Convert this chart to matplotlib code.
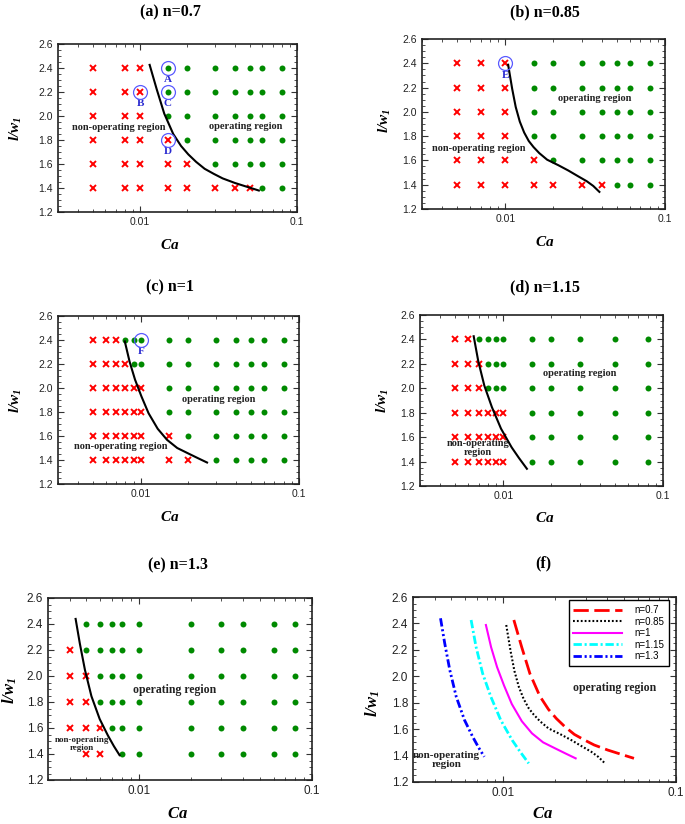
import numpy as np
import matplotlib
matplotlib.use("Agg")
import matplotlib.pyplot as plt
from matplotlib.ticker import FixedLocator, FuncFormatter, MultipleLocator, LogLocator, NullFormatter

plt.rcParams["font.family"] = "Liberation Sans"
plt.rcParams["mathtext.fontset"] = "custom"
plt.rcParams["mathtext.rm"] = "Liberation Serif"
plt.rcParams["mathtext.it"] = "Liberation Serif:italic"
plt.rcParams["mathtext.bf"] = "Liberation Serif:bold"
plt.rcParams["mathtext.bfit"] = "Liberation Serif:bold:italic"
plt.rcParams["lines.scale_dashes"] = False

SERIF = "Liberation Serif"

# rows of l/w1 tested in every panel
lw_rows = [2.4, 2.2, 2.0, 1.8, 1.6, 1.4]

# Ca columns per panel and how many (from the left) fail in each row
ca_a = [0.005, 0.008, 0.01, 0.015, 0.02, 0.03, 0.04, 0.05, 0.06, 0.08]
fail_a = [3, 3, 3, 4, 5, 8]
ca_b = [0.005, 0.007, 0.01, 0.015, 0.02, 0.03, 0.04, 0.05, 0.06, 0.08]
fail_b = [3, 3, 3, 3, 4, 7]
ca_c = [0.005, 0.006, 0.007, 0.008, 0.009, 0.01, 0.015, 0.02, 0.03, 0.04, 0.05, 0.06, 0.08]
fail_c = [3, 4, 6, 6, 7, 8]
ca_d = [0.005, 0.006, 0.007, 0.008, 0.009, 0.01, 0.015, 0.02, 0.03, 0.05, 0.08]
fail_d = [2, 3, 3, 6, 6, 6]
ca_e = [0.004, 0.005, 0.006, 0.007, 0.008, 0.01, 0.02, 0.03, 0.04, 0.06, 0.08]
fail_e = [1, 1, 2, 2, 3, 3]
skip_e = [(2.4, 0.004), (1.4, 0.004), (1.4, 0.007)]

# critical curves
ca_n07 = [0.01151, 0.01278, 0.01426, 0.01627, 0.01825, 0.0203, 0.02275, 0.0258, 0.02958, 0.0336, 0.0402, 0.048, 0.0571]
lw_n07 = [2.426, 2.221, 2.02, 1.85, 1.75, 1.68, 1.618, 1.56, 1.517, 1.48, 1.442, 1.41, 1.379]
ca_n085 = [0.0104, 0.01102, 0.0116, 0.0123, 0.0131, 0.0140, 0.0150, 0.0163, 0.01825, 0.0215,
           0.02477, 0.0285, 0.0323, 0.0355, 0.0388]
lw_n085 = [2.388, 2.19, 2.04, 1.92, 1.83, 1.76, 1.71, 1.66, 1.606, 1.56,
           1.517, 1.47, 1.429, 1.39, 1.341]
ca_n1 = [0.00793, 0.0085, 0.0092, 0.0101, 0.0112, 0.0128, 0.01466, 0.0170, 0.01993, 0.0230, 0.02624]
lw_n1 = [2.388, 2.22, 2.07, 1.93, 1.79, 1.66, 1.568, 1.50, 1.455, 1.415, 1.379]
ca_n115 = [0.00651, 0.00695, 0.00759, 0.00847, 0.00966, 0.01125, 0.0125, 0.01403]
lw_n115 = [2.426, 2.224, 2.022, 1.845, 1.669, 1.517, 1.43, 1.341]
ca_n13 = [0.00433, 0.00458, 0.0049, 0.00534, 0.00596, 0.00665, 0.0072, 0.00776]
lw_n13 = [2.439, 2.249, 2.047, 1.845, 1.669, 1.542, 1.46, 1.391]

# circled cases
circ_a = [(0.015, 2.4, "A"), (0.01, 2.2, "B"), (0.015, 2.2, "C"), (0.015, 1.8, "D")]
circ_b = [(0.01, 2.4, "E")]
circ_c = [(0.01, 2.4, "F")]

fig = plt.figure(figsize=(6.85, 8.24), dpi=100)
W, H = 685.0, 824.0


def setup(ax, fs):
    ax.set_xscale("log")
    ax.set_xlim(0.003, 0.1)
    ax.set_ylim(1.2, 2.6)
    ax.yaxis.set_major_locator(FixedLocator([1.2, 1.4, 1.6, 1.8, 2.0, 2.2, 2.4, 2.6]))
    ax.yaxis.set_minor_locator(MultipleLocator(0.05))
    ax.xaxis.set_major_locator(FixedLocator([0.01, 0.1]))
    ax.xaxis.set_minor_locator(LogLocator(subs=range(2, 10)))
    ax.xaxis.set_minor_formatter(NullFormatter())
    ax.xaxis.set_major_formatter(FuncFormatter(lambda v, p: f"{v:g}"))
    ax.yaxis.set_major_formatter(FuncFormatter(lambda v, p: f"{v:.1f}"))
    ax.tick_params(which="both", direction="in", top=True, right=True, labelsize=fs,
                   colors="#333333", labelcolor="#222222")
    ax.tick_params(which="major", length=4, width=0.8)
    ax.tick_params(which="minor", length=2, width=0.6)
    for s in ax.spines.values():
        s.set_linewidth(1.2)
        s.set_color("#222222")


def grid_points(ax, ca, fail, skip=()):
    for row, k in zip(lw_rows, fail):
        for j, c in enumerate(ca):
            if (row, c) in skip:
                continue
            if j < k:
                ax.plot(c, row, "x", color="red", ms=4.5, mew=1.4, zorder=3)
            else:
                ax.plot(c, row, "o", color="#008a00", ms=4.3, mec="none", zorder=3)


def circles(ax, items):
    for c, row, lab in items:
        ax.plot(c, row, "o", mfc="none", mec="#5a5aff", ms=10, mew=0.9, zorder=4)
        ax.text(c, row - 0.1, lab, color="#2a2ad0", family=SERIF, weight="bold",
                fontsize=8, ha="center", va="center")


def region(ax, x, y, s, fs=7.5):
    ax.text(x, y, s, family=SERIF, weight="bold", fontsize=fs, color="#222222",
            ha="center", va="center", linespacing=1.0, zorder=5)


def labels(title, tx, ty, xl_y, yl_x, yl_y, fs=11):
    fig.text(tx / W, 1 - ty / H, title, family=SERIF, weight="bold", fontsize=11.5,
             ha="center", va="center")
    fig.text(tx / W, 1 - xl_y / H, r"$\mathbfit{Ca}$", fontsize=fs, ha="center", va="center")
    fig.text(yl_x / W, 1 - yl_y / H, r"$\mathbfit{l/w}_\mathbfit{1}$", fontsize=fs,
             ha="center", va="center", rotation=90)


def add_axes(l, r, t, b):
    return fig.add_axes([l / W, 1 - b / H, (r - l) / W, (b - t) / H])


# (a)
ax = add_axes(58, 297, 44, 212)
setup(ax, 7.5)
grid_points(ax, ca_a, fail_a)
ax.plot(ca_n07, lw_n07, color="black", lw=1.5, zorder=4)
circles(ax, circ_a)
region(ax, 0.0073, 1.90, "non-operating region")
region(ax, 0.047, 1.91, "operating region")
labels("(a) n=0.7", 170, 12, 245, 16, 128)

# (b)
ax = add_axes(422, 665, 39, 209)
setup(ax, 7.5)
grid_points(ax, ca_b, fail_b)
ax.plot(ca_n085, lw_n085, color="black", lw=1.5, zorder=4)
circles(ax, circ_b)
region(ax, 0.0068, 1.70, "non-operating region")
region(ax, 0.036, 2.11, "operating region")
labels("(b) n=0.85", 545, 12, 242, 385, 120)

# (c)
ax = add_axes(58, 299, 316, 484)
setup(ax, 7.5)
grid_points(ax, ca_c, fail_c)
ax.plot(ca_n1, lw_n1, color="black", lw=1.5, zorder=4)
circles(ax, circ_c)
region(ax, 0.0075, 1.51, "non-operating region")
region(ax, 0.031, 1.90, "operating region")
labels("(c) n=1", 170, 287, 517, 16, 400)

# (d)
ax = add_axes(420, 663, 315, 486)
setup(ax, 7.5)
grid_points(ax, ca_d, fail_d)
ax.plot(ca_n115, lw_n115, color="black", lw=1.5, zorder=4)
region(ax, 0.0069, 1.51, "non-operating\nregion")
region(ax, 0.030, 2.12, "operating region")
labels("(d) n=1.15", 545, 287, 518, 383, 400)

# (e)
ax = add_axes(48, 312, 598, 780)
setup(ax, 8.5)
grid_points(ax, ca_e, fail_e, skip_e)
ax.plot(ca_n13, lw_n13, color="black", lw=1.5, zorder=4)
region(ax, 0.0047, 1.48, "non-operating\nregion", fs=6.5)
region(ax, 0.0161, 1.89, "operating region", fs=8.5)
labels("(e) n=1.3", 178, 565, 813, 10, 690, fs=12)

# (f)
ax = add_axes(413, 676, 597, 782)
setup(ax, 8.5)
ax.plot(ca_n07, lw_n07, color="red", lw=2.0, dashes=[11, 4], label="n=0.7")
ax.plot(ca_n085, lw_n085, color="black", lw=1.5, dashes=[1.3, 1.5], label="n=0.85")
ax.plot(ca_n1, lw_n1, color="magenta", lw=1.5, label="n=1")
ax.plot(ca_n115, lw_n115, color="cyan", lw=2.0, dashes=[6, 2, 1.5, 2], label="n=1.15")
ax.plot(ca_n13, lw_n13, color="blue", lw=2.0, dashes=[6, 2, 1.5, 2, 1.5, 2], label="n=1.3")
leg = ax.legend(loc="upper right", bbox_to_anchor=(0.975, 0.982), borderaxespad=0,
                fontsize=7, handlelength=5.0, handletextpad=1.3, labelspacing=0.15,
                fancybox=False, framealpha=1, edgecolor="black", borderpad=0.5)
leg.get_frame().set_linewidth(1.0)
region(ax, 0.0047, 1.37, "non-operating\nregion", fs=8)
region(ax, 0.044, 1.91, "operating region", fs=8.5)
labels("(f)", 543, 563, 813, 373, 703, fs=12)

fig.savefig("out.png", dpi=100)
